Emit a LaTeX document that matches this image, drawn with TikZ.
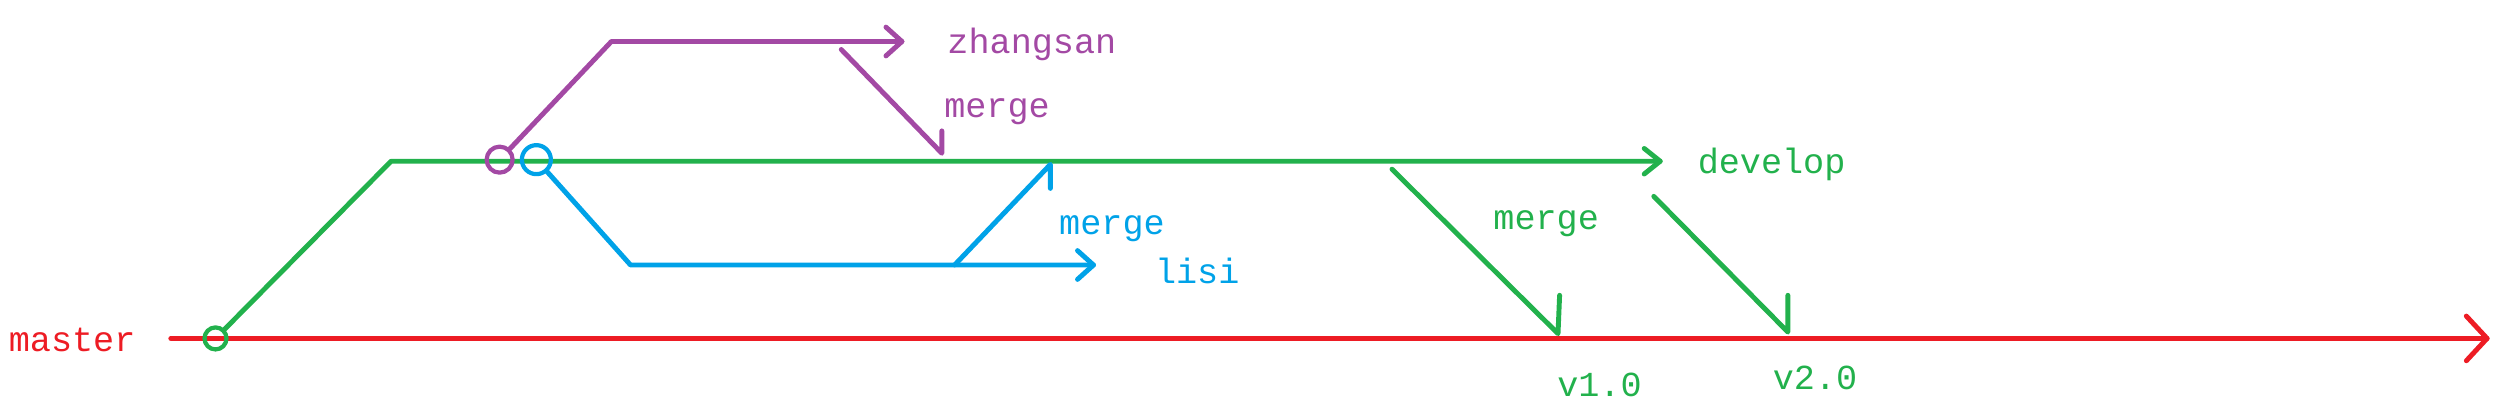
\documentclass[tikz,border=0pt]{standalone}
\usepackage{fontspec}
\setmonofont{Liberation Mono}
\begin{document}
\begin{tikzpicture}[x=0.01596cm,y=-0.01596cm,line width=1.4pt,line join=round,line cap=round,
  lbl/.style={font=\ttfamily\fontsize{10}{12}\selectfont,anchor=west,inner sep=0pt}]
\definecolor{cred}{HTML}{ED1C24}
\definecolor{cgreen}{HTML}{22B14C}
\definecolor{cpurple}{HTML}{A349A4}
\definecolor{cblue}{HTML}{00A2E8}
\useasboundingbox (0,0) rectangle (1568,259);
% master
\node[lbl,text=cred] (master) at (4,213) {master};
\coordinate (m0) at (107,212); \coordinate (m1) at (1558,212);
\draw[cred] (m0) -- (m1);
\draw[cred] (1545,198) -- (m1) -- (1545,226);
% develop
\node[draw=cgreen,circle,minimum size=0.22cm,inner sep=0pt,line width=1.2pt] (gc) at (135,212) {};
\coordinate (d1) at (245,101); \coordinate (d2) at (1040,101);
\draw[cgreen] (gc) -- (d1) -- (d2);
\draw[cgreen] (1030,93) -- (d2) -- (1030,109);
\node[lbl,text=cgreen] (develop) at (1062,103) {develop};
% zhangsan
\node[draw=cpurple,circle,minimum size=0.26cm,inner sep=0pt,line width=1.2pt] (pc) at (313,100) {};
\coordinate (z1) at (383,26); \coordinate (z2) at (565,26);
\draw[cpurple] (pc) -- (z1) -- (z2);
\draw[cpurple] (555,17) -- (z2) -- (555,35);
\node[lbl,text=cpurple] (zs) at (592,28) {zhangsan};
\coordinate (zm0) at (527,31); \coordinate (zm1) at (590,96);
\draw[cpurple] (zm0) -- (zm1) -- (590,82);
\node[lbl,text=cpurple] (zmerge) at (590,70) {merge};
% lisi
\node[draw=cblue,circle,minimum size=0.29cm,inner sep=0pt,line width=1.2pt] (bc) at (336,100) {};
\coordinate (l1) at (395,166); \coordinate (l2) at (685,166);
\draw[cblue] (bc) -- (l1) -- (l2);
\draw[cblue] (675,157) -- (l2) -- (675,175);
\node[lbl,text=cblue] (lisi) at (722,170) {lisi};
\coordinate (lm0) at (598,166); \coordinate (lm1) at (658,103);
\draw[cblue] (lm0) -- (lm1) -- (658,118);
\node[lbl,text=cblue] (lmerge) at (662,143) {merge};
% releases
\coordinate (r0) at (872,106); \coordinate (r1) at (976,209);
\draw[cgreen] (r0) -- (r1) -- (977,185);
\node[lbl,text=cgreen] (gmerge) at (934,140) {merge};
\node[lbl,text=cgreen] (v1) at (974,241) {v1.0};
\coordinate (s0) at (1036,123); \coordinate (s1) at (1120,208);
\draw[cgreen] (s0) -- (s1) -- (1120,185);
\node[lbl,text=cgreen] (v2) at (1109,237) {v2.0};
\end{tikzpicture}
\end{document}
